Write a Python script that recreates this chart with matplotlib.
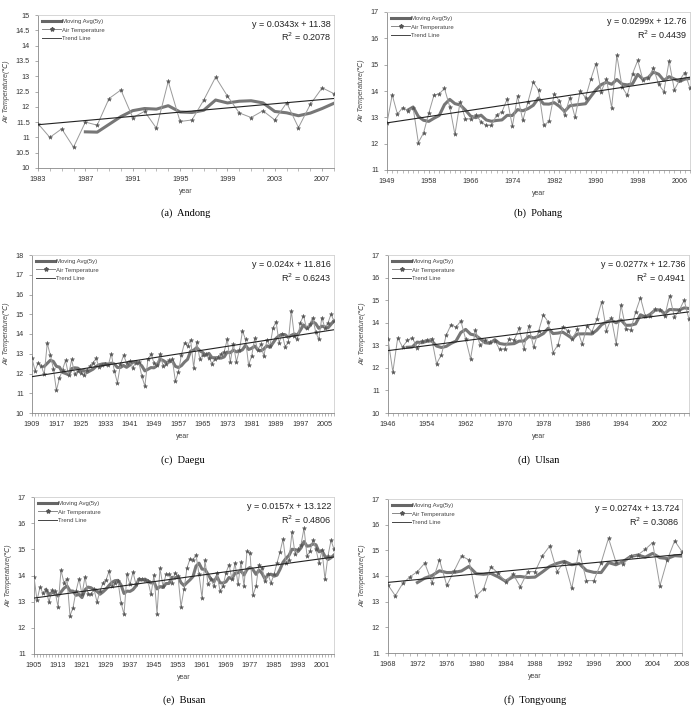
import matplotlib
matplotlib.use("Agg")
import matplotlib.pyplot as plt
import numpy as np
import pandas as pd
from matplotlib.lines import Line2D

plt.rcParams['font.family'] = ['Liberation Sans', 'DejaVu Sans']

# ---- data ----
andong_years = list(range(1983, 2009))
andong_temp = [11.45, 11.0, 11.28, 10.68, 11.5, 11.4, 12.27, 12.55, 11.65, 11.85,
               11.3, 12.83, 11.52, 11.57, 12.22, 12.97, 12.35, 11.8, 11.65, 11.87,
               11.57, 12.13, 11.32, 12.08, 12.62, 12.43]

pohang_years = [1949] + list(range(1951, 2009))
pohang_temp = [12.79, 13.85, 13.12, 13.37, 13.25, 13.37, 12.04, 12.41, 13.16, 13.85,
               13.89, 14.1, 13.41, 12.35, 13.6, 12.94, 12.94, 13.1, 12.83, 12.69,
               12.69, 13.1, 13.2, 13.7, 12.66, 13.81, 12.88, 13.6, 14.33, 14.04,
               12.69, 12.85, 13.88, 13.63, 13.08, 13.75, 13.0, 14.0, 13.75, 14.44,
               15.04, 13.98, 14.45, 13.37, 15.35, 14.16, 13.83, 14.66, 15.16, 14.41,
               14.48, 14.88, 14.25, 13.98, 15.13, 14.04, 14.41, 14.7, 14.1]

daegu_years = list(range(1909, 2009))
daegu_temp = [12.76, 12.15, 12.54, 12.4, 11.95, 13.53, 12.93, 12.25, 11.15, 11.75,
              12.2, 12.66, 11.92, 12.71, 11.95, 12.12, 12.05, 11.92, 12.2, 12.37,
              12.54, 12.76, 12.32, 12.42, 12.46, 12.42, 13.0, 12.12, 11.53, 12.46,
              12.92, 12.54, 12.63, 12.3, 12.54, 12.6, 11.86, 11.36, 12.71, 12.97,
              12.54, 12.42, 13.0, 12.37, 12.46, 12.66, 12.71, 11.61, 12.08, 12.95,
              13.55, 13.4, 13.7, 12.3, 13.6, 12.75, 12.95, 13.0, 12.8, 12.5,
              12.75, 12.85, 13.0, 13.1, 13.73, 12.58, 13.5, 12.58, 13.2, 14.15,
              13.73, 12.42, 12.88, 13.78, 13.2, 13.47, 12.88, 13.68, 13.4, 14.29,
              14.63, 13.56, 14.0, 13.34, 13.6, 15.17, 13.9, 13.73, 14.58, 14.92,
              14.3, 14.49, 14.83, 14.1, 13.73, 14.83, 14.32, 14.55, 15.0, 14.66]

ulsan_years = list(range(1946, 2009))
ulsan_temp = [13.27, 11.82, 13.33, 12.92, 13.22, 13.33, 12.9, 13.2, 13.25, 13.3,
              12.18, 12.58, 13.45, 13.92, 13.8, 14.08, 13.27, 12.4, 13.67, 13.0,
              13.22, 13.15, 13.2, 12.82, 12.83, 13.28, 13.24, 13.75, 12.85, 13.85,
              12.92, 13.62, 14.35, 14.03, 12.68, 13.02, 13.83, 13.65, 13.3, 13.7,
              13.05, 13.85, 13.6, 14.15, 14.92, 13.65, 14.2, 13.07, 14.78, 13.72,
              13.68, 14.48, 15.1, 14.3, 14.3, 14.6, 14.55, 14.28, 15.2, 14.25,
              14.55, 15.0, 14.15]

busan_years = list(range(1905, 2006))
busan_temp = [13.95, 13.05, 13.56, 13.32, 13.44, 12.99, 13.44, 13.4, 12.81, 14.2,
              13.72, 13.87, 12.46, 12.77, 13.4, 13.87, 13.28, 13.95, 13.28, 13.28,
              13.47, 12.99, 13.4, 13.72, 13.82, 14.16, 13.59, 13.72, 13.78, 12.96,
              12.52, 14.04, 13.66, 14.13, 13.66, 13.85, 13.85, 13.82, 13.78, 13.28,
              14.02, 12.54, 14.27, 13.59, 14.04, 14.04, 13.72, 14.1, 13.97, 12.81,
              13.47, 14.29, 14.63, 14.6, 14.8, 14.04, 13.15, 14.58, 13.66, 13.85,
              13.6, 14.1, 13.4, 13.6, 14.1, 14.42, 13.85, 14.48, 13.66, 14.5,
              13.6, 14.92, 14.86, 13.24, 13.6, 14.42, 14.29, 13.78, 14.04, 13.72,
              14.04, 14.48, 14.89, 15.39, 14.48, 14.6, 15.65, 14.84, 15.01, 15.18,
              15.81, 14.76, 14.92, 15.37, 15.0, 14.48, 14.96, 13.85, 14.76, 15.34,
              15.01]

tongyoung_years = list(range(1968, 2009))
tongyoung_temp = [13.65, 13.23, 13.71, 13.97, 14.17, 14.5, 13.74, 14.63, 13.63, 14.2,
                  14.78, 14.63, 13.22, 13.5, 14.37, 14.1, 13.78, 14.08, 13.58, 14.17,
                  14.17, 14.78, 15.17, 14.17, 14.56, 13.52, 14.99, 13.82, 13.82, 14.52,
                  15.47, 14.56, 14.46, 14.78, 14.82, 15.04, 15.3, 13.62, 14.63, 15.37,
                  14.95]

# trend line coefficients and R^2 printed on each panel
slopes = [0.0343, 0.0299, 0.024, 0.0277, 0.0157, 0.0274]
intercepts = [11.38, 12.76, 11.816, 12.736, 13.122, 13.724]
eq_texts = ["y = 0.0343x + 11.38", "y = 0.0299x + 12.76", "y = 0.024x + 11.816",
            "y = 0.0277x + 12.736", "y = 0.0157x + 13.122", "y = 0.0274x + 13.724"]
r2_texts = ["R$^2$ = 0.2078", "R$^2$ = 0.4439", "R$^2$ = 0.6243",
            "R$^2$ = 0.4941", "R$^2$ = 0.4806", "R$^2$ = 0.3086"]
captions = ["(a)  Andong", "(b)  Pohang", "(c)  Daegu",
            "(d)  Ulsan", "(e)  Busan", "(f)  Tongyoung"]

W, H = 692, 709
fig = plt.figure(figsize=(W / 100, H / 100), dpi=100)


def box(x0, x1, y0, y1):
    return [x0 / W, 1 - y1 / H, (x1 - x0) / W, (y1 - y0) / H]


panels = [
    (andong_years, andong_temp, box(38, 334, 15, 168), 4, np.arange(10, 15.01, 0.5)),
    (pohang_years, pohang_temp, box(387, 690, 12, 170), 8, np.arange(11, 17.01, 1)),
    (daegu_years, daegu_temp, box(32, 334, 255, 413), 8, np.arange(10, 18.01, 1)),
    (ulsan_years, ulsan_temp, box(388, 689, 255, 413), 8, np.arange(10, 17.01, 1)),
    (busan_years, busan_temp, box(34, 334, 497, 654), 8, np.arange(11, 17.01, 1)),
    (tongyoung_years, tongyoung_temp, box(388, 682, 499, 653), 4, np.arange(11, 17.01, 1)),
]
caption_y = [213, 213, 460, 460, 700, 700]

for k, (years, temp, rect, step, yt) in enumerate(panels):
    ax = fig.add_axes(rect)
    n = len(temp)
    x = np.arange(n)
    ma = pd.Series(temp).rolling(5).mean()
    trend = slopes[k] * (x + 1) + intercepts[k]

    ax.plot(x, ma, color='#777777', lw=2.2, zorder=2)
    ax.plot(x, temp, color='#9a9a9a', lw=0.7, marker='*', ms=3.2,
            mfc='#555555', mec='#555555', mew=0.3, zorder=3)
    ax.plot(x, trend, color='#222222', lw=0.8, zorder=4)

    ax.set_xlim(0, n - 1)
    ax.set_ylim(yt[0], yt[-1])
    ax.set_yticks(yt)
    ax.set_yticklabels(['%g' % v for v in yt])
    ax.set_xticks(x[::step])
    ax.set_xticklabels([str(years[i]) for i in x[::step]])
    ax.set_xticks(x, minor=True)

    for s in ax.spines.values():
        s.set_color('#d0d0d0')
        s.set_linewidth(0.6)
    ax.spines['left'].set_color('#888888')
    ax.spines['bottom'].set_color('#888888')
    ax.tick_params(axis='both', labelsize=5.2, colors='#888888', labelcolor='#333333',
                   length=2.5, width=0.5, direction='out')
    ax.tick_params(axis='x', which='minor', length=2, width=0.4, colors='#888888')
    ax.tick_params(axis='x', pad=3)

    ax.set_ylabel('Air Temperature(℃)', fontsize=5, color='#444444', style='italic', labelpad=4)
    ax.set_xlabel('year', fontsize=5, color='#444444', labelpad=4)

    ax.text(0.99, 0.94, eq_texts[k], transform=ax.transAxes, ha='right', va='center',
            fontsize=6.5, color='#222222')
    ax.text(0.99, 0.855, r2_texts[k], transform=ax.transAxes, ha='right', va='center',
            fontsize=6.5, color='#222222')

    handles = [Line2D([], [], color='#666666', lw=2.2),
               Line2D([], [], color='#888888', lw=0.7, marker='*', ms=3, mfc='#555555', mec='#555555'),
               Line2D([], [], color='#444444', lw=0.7)]
    ax.legend(handles, ['Moving Avg(5y)', 'Air Temperature', 'Trend Line'],
              loc='upper left', fontsize=4.3, frameon=False, handlelength=3.2,
              handletextpad=0.2, labelspacing=0.5, borderaxespad=0.3, labelcolor='#444444')

    cx = (rect[0] + rect[2] / 2)
    fig.text(cx, 1 - caption_y[k] / H, captions[k], ha='center', va='center',
             fontsize=7.5, family='Liberation Serif')

fig.savefig('out.png', dpi=100)
